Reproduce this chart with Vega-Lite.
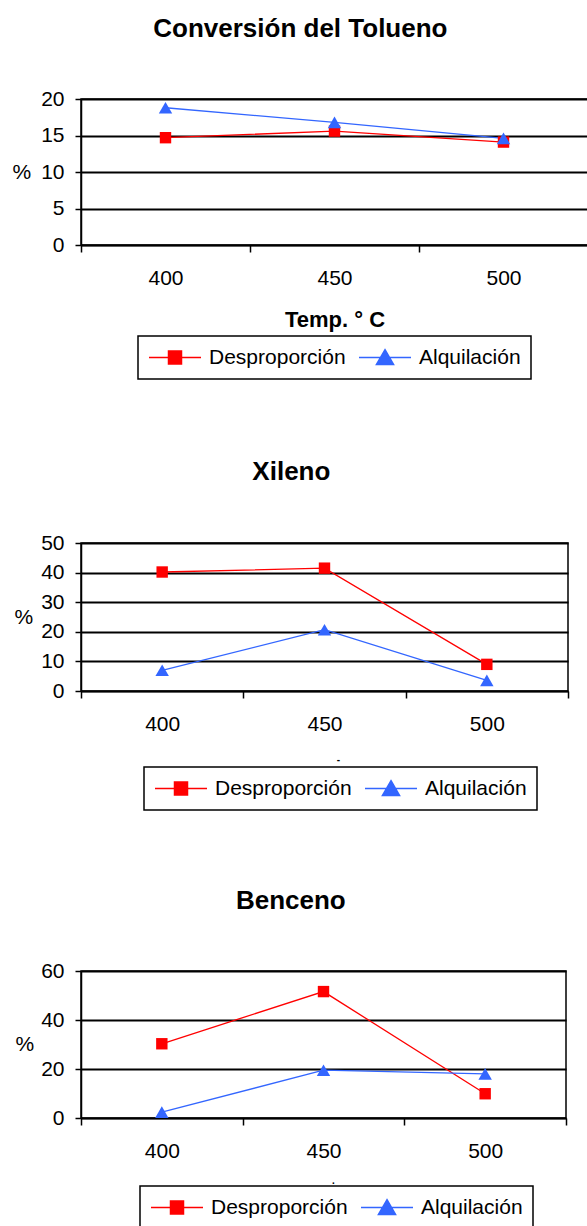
{
  "$schema": "https://vega.github.io/schema/vega-lite/v6.json",
  "padding": {"left": 11, "top": 15, "right": 0, "bottom": 0},
  "background": "white",
  "spacing": 77,
  "config": {
    "font": "Liberation Sans",
    "view": {"stroke": "black", "strokeWidth": 1.5},
    "axis": {
      "labelFont": "Liberation Sans", "labelFontSize": 21, "labelColor": "black",
      "titleFont": "Liberation Sans", "titleColor": "black",
      "domainColor": "black", "domainWidth": 1.5,
      "tickColor": "black", "tickWidth": 1.5,
      "gridColor": "black", "gridWidth": 1.8, "gridOpacity": 1
    },
    "legend": {
      "labelFont": "Liberation Sans", "labelFontSize": 21, "labelColor": "black",
      "strokeColor": "black", "strokeWidth": 1.5, "fillColor": "white",
      "padding": 10, "columnPadding": 12, "symbolSize": 2704, "symbolOffset": 0, "clipHeight": 23,
      "labelOffset": 7, "symbolStrokeWidth": 1.5, "direction": "horizontal", "orient": "none"
    },
    "title": {"font": "Liberation Sans", "fontSize": 26, "fontWeight": "bold", "color": "black", "anchor": "middle", "frame": "bounds"}
  },
  "resolve": {"scale": {"x": "independent", "y": "independent", "color": "independent"}, "legend": {"color": "independent"}},
  "vconcat": [
    {
      "title": {"text": "Conversión del Tolueno", "offset": 46},
      "width": 507, "height": 146,
      "data": {"values": [
        {"temp": "400", "serie": "Desproporción", "pct": 14.7},
        {"temp": "450", "serie": "Desproporción", "pct": 15.6},
        {"temp": "500", "serie": "Desproporción", "pct": 14.1},
        {"temp": "400", "serie": "Alquilación", "pct": 18.8},
        {"temp": "450", "serie": "Alquilación", "pct": 16.8},
        {"temp": "500", "serie": "Alquilación", "pct": 14.6}
      ]},
      "encoding": {
        "x": {"field": "temp", "type": "ordinal", "sort": ["400", "450", "500"],
          "axis": {"title": "Temp. ° C", "titleFontSize": 22, "titleFontWeight": "bold", "labelAngle": 0, "tickBand": "extent", "tickSize": 7, "labelPadding": 15, "titlePadding": 21}},
        "y": {"field": "pct", "type": "quantitative", "scale": {"domain": [0, 20], "nice": false},
          "axis": {"values": [0, 5, 10, 15, 20], "title": "%", "titleAngle": 0, "titleAlign": "right", "titleBaseline": "middle", "titleFontSize": 21, "titleFontWeight": "normal", "titlePadding": 10, "tickSize": 6, "labelPadding": 11}},
        "color": {"field": "serie", "type": "nominal", "scale": {"domain": ["Desproporción", "Alquilación"], "range": ["#ff0000", "#3366ff"]},
          "legend": {"title": null, "legendX": 57, "legendY": 237,
            "encode": {"symbols": {"update": {
              "shape": {"signal": "datum.value === 'Desproporción' ? 'M-1,0H1M-0.25,-0.25H0.25V0.25H-0.25Z' : 'M-1,0H1M0,-0.3L0.33,0.27H-0.33Z'"},
              "fill": {"signal": "datum.value === 'Desproporción' ? '#ff0000' : '#3366ff'"},
              "stroke": {"signal": "datum.value === 'Desproporción' ? '#ff0000' : '#3366ff'"},
              "strokeWidth": {"value": 1.5},
              "opacity": {"value": 1}
            }}}}}
      },
      "layer": [
        {"mark": {"type": "line", "strokeWidth": 1.3}},
        {"transform": [{"filter": "datum.serie === 'Desproporción'"}],
          "mark": {"type": "point", "shape": "square", "filled": true, "opacity": 1, "size": 130}},
        {"transform": [{"filter": "datum.serie === 'Alquilación'"}],
          "mark": {"type": "point", "shape": "triangle-up", "filled": true, "opacity": 1, "size": 180}}
      ]
    },
    {
      "spacing": 75,
      "resolve": {"scale": {"x": "independent", "y": "independent", "color": "independent"}, "legend": {"color": "independent"}},
      "vconcat": [
        {
          "title": {"text": "Xileno", "offset": 47},
          "width": 487, "height": 148,
          "data": {"values": [
            {"temp": "400", "serie": "Desproporción", "pct": 40.2},
            {"temp": "450", "serie": "Desproporción", "pct": 41.5},
            {"temp": "500", "serie": "Desproporción", "pct": 9.0},
            {"temp": "400", "serie": "Alquilación", "pct": 7.0},
            {"temp": "450", "serie": "Alquilación", "pct": 20.7},
            {"temp": "500", "serie": "Alquilación", "pct": 3.6}
          ]},
          "encoding": {
            "x": {"field": "temp", "type": "ordinal", "sort": ["400", "450", "500"],
              "axis": {"title": "-", "titleFontSize": 10, "titleFontWeight": "bold", "titleX": 257, "labelAngle": 0, "tickBand": "extent", "tickSize": 7, "labelPadding": 15, "titlePadding": 20}},
            "y": {"field": "pct", "type": "quantitative", "scale": {"domain": [0, 50], "nice": false},
              "axis": {"values": [0, 10, 20, 30, 40, 50], "title": "%", "titleAngle": 0, "titleAlign": "right", "titleBaseline": "middle", "titleFontSize": 21, "titleFontWeight": "normal", "titlePadding": 8, "tickSize": 6, "labelPadding": 11}},
            "color": {"field": "serie", "type": "nominal", "scale": {"domain": ["Desproporción", "Alquilación"], "range": ["#ff0000", "#3366ff"]},
              "legend": {"title": null, "legendX": 63, "legendY": 224,
                "encode": {"symbols": {"update": {
                  "shape": {"signal": "datum.value === 'Desproporción' ? 'M-1,0H1M-0.25,-0.25H0.25V0.25H-0.25Z' : 'M-1,0H1M0,-0.3L0.33,0.27H-0.33Z'"},
                  "fill": {"signal": "datum.value === 'Desproporción' ? '#ff0000' : '#3366ff'"},
                  "stroke": {"signal": "datum.value === 'Desproporción' ? '#ff0000' : '#3366ff'"},
                  "strokeWidth": {"value": 1.5},
                  "opacity": {"value": 1}
                }}}}}
          },
          "layer": [
            {"mark": {"type": "line", "strokeWidth": 1.3}},
            {"transform": [{"filter": "datum.serie === 'Desproporción'"}],
              "mark": {"type": "point", "shape": "square", "filled": true, "opacity": 1, "size": 130}},
            {"transform": [{"filter": "datum.serie === 'Alquilación'"}],
              "mark": {"type": "point", "shape": "triangle-up", "filled": true, "opacity": 1, "size": 180}}
          ]
        },
        {
          "title": {"text": "Benceno", "offset": 46},
          "width": 485, "height": 147,
          "data": {"values": [
            {"temp": "400", "serie": "Desproporción", "pct": 30.3},
            {"temp": "450", "serie": "Desproporción", "pct": 51.6},
            {"temp": "500", "serie": "Desproporción", "pct": 9.9},
            {"temp": "400", "serie": "Alquilación", "pct": 2.4},
            {"temp": "450", "serie": "Alquilación", "pct": 19.5},
            {"temp": "500", "serie": "Alquilación", "pct": 18.0}
          ]},
          "encoding": {
            "x": {"field": "temp", "type": "ordinal", "sort": ["400", "450", "500"],
              "axis": {"title": ".", "titleFontSize": 10, "titleFontWeight": "bold", "titleX": 252, "labelAngle": 0, "tickBand": "extent", "tickSize": 7, "labelPadding": 15, "titlePadding": 14}},
            "y": {"field": "pct", "type": "quantitative", "scale": {"domain": [0, 60], "nice": false},
              "axis": {"values": [0, 20, 40, 60], "title": "%", "titleAngle": 0, "titleAlign": "right", "titleBaseline": "middle", "titleFontSize": 21, "titleFontWeight": "normal", "titlePadding": 7, "tickSize": 6, "labelPadding": 11}},
            "color": {"field": "serie", "type": "nominal", "scale": {"domain": ["Desproporción", "Alquilación"], "range": ["#ff0000", "#3366ff"]},
              "legend": {"title": null, "legendX": 59, "legendY": 215,
                "encode": {"symbols": {"update": {
                  "shape": {"signal": "datum.value === 'Desproporción' ? 'M-1,0H1M-0.25,-0.25H0.25V0.25H-0.25Z' : 'M-1,0H1M0,-0.3L0.33,0.27H-0.33Z'"},
                  "fill": {"signal": "datum.value === 'Desproporción' ? '#ff0000' : '#3366ff'"},
                  "stroke": {"signal": "datum.value === 'Desproporción' ? '#ff0000' : '#3366ff'"},
                  "strokeWidth": {"value": 1.5},
                  "opacity": {"value": 1}
                }}}}}
          },
          "layer": [
            {"mark": {"type": "line", "strokeWidth": 1.3}},
            {"transform": [{"filter": "datum.serie === 'Desproporción'"}],
              "mark": {"type": "point", "shape": "square", "filled": true, "opacity": 1, "size": 130}},
            {"transform": [{"filter": "datum.serie === 'Alquilación'"}],
              "mark": {"type": "point", "shape": "triangle-up", "filled": true, "opacity": 1, "size": 180}}
          ]
        }
      ]
    }
  ]
}
